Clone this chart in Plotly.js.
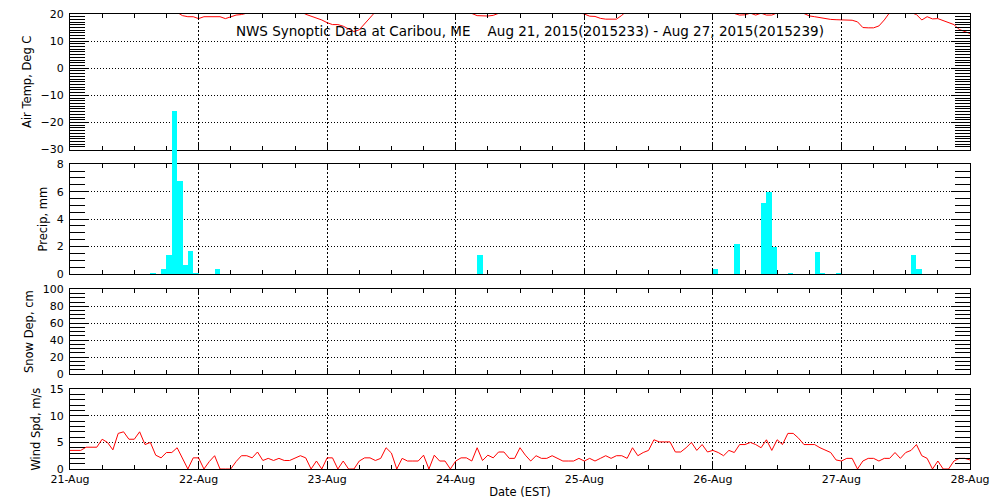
<!DOCTYPE html>
<html>
<head>
<meta charset="utf-8">
<script src="https://cdn.plot.ly/plotly-3.0.1.min.js"></script>
<style>html,body{margin:0;padding:0;background:#fff;}#chart{width:1000px;height:500px;}</style>
</head>
<body>
<div id="chart"></div>
<script>
// ---- data (hourly, starting 2015-08-21 00:00 EST) ----
const startDate = '2015-08-21';
const endDate = '2015-08-28';

// Air temperature, deg C, hourly h0..h168 (values above 20 are off-scale in the reference)
const airTemp = [
  22.0,21.5,21.2,21.0,20.8,20.7,21.0,22.0,23.5,25.0,26.5,27.5,28.0,28.5,28.5,28.0,27.0,25.5,23.5,22.0,20.6,19.4,19.0,19.0,
  18.3,19.0,19.0,19.0,19.0,18.3,19.0,19.6,19.8,20.3,21.5,23.0,24.0,25.0,25.5,25.5,25.0,24.0,22.5,21.0,19.9,19.2,18.6,17.8,
  16.8,16.1,16.1,15.5,14.5,13.5,14.2,16.5,19.0,21.0,23.0,24.5,26.0,27.0,27.5,27.5,27.0,26.0,24.5,23.0,22.0,21.3,21.0,20.6,
  20.3,20.2,20.3,20.2,19.4,19.25,19.25,19.5,20.2,21.0,23.0,25.0,26.5,27.5,28.0,28.5,28.5,28.0,27.0,25.5,24.0,22.5,21.5,20.5,
  20.0,19.2,19.1,18.4,18.1,18.0,18.1,19.5,21.0,23.0,25.0,26.5,28.0,29.0,29.5,29.5,29.0,28.0,26.5,25.0,23.5,22.5,21.8,21.2,
  20.8,20.5,20.3,20.2,20.2,19.6,19.7,20.3,19.6,20.3,19.6,19.6,20.4,21.5,22.5,22.0,21.0,20.0,19.3,19.0,18.6,18.3,18.0,17.9,
  17.8,17.8,17.7,17.1,15.0,14.9,14.9,15.6,17.8,20.5,22.0,23.0,22.0,20.5,19.8,17.8,19.0,18.2,18.3,17.5,16.8,16.1,14.3,13.5,
  12.8
];

// Precipitation, mm per hour (hour index from start, amount)
const precipHours = [15, 17, 18, 19, 20, 21, 22, 23, 27, 76, 120, 124, 129, 130, 131, 134, 139, 140, 143, 157, 158];
const precipMm    = [0.1, 0.4, 1.4, 11.9, 6.8, 0.65, 1.65, 0.1, 0.4, 1.4, 0.4, 2.2, 5.2, 6.0, 2.0, 0.1, 1.6, 0.1, 0.1, 1.4, 0.4];

// Snow depth, cm (no reports)
const snowDepth = [];

// Wind speed, m/s, hourly h0..h168
const windSpd = [
  3.5,3.5,3.5,4.1,4.1,4.1,5.6,5.0,3.6,6.7,7.0,5.6,5.6,7.0,4.6,5.0,2.6,2.1,3.1,3.1,4.0,2.0,0,2.1,
  2.1,0,1.4,2.5,0,0,0,1.4,2.5,2.5,2.1,3.2,1.6,2.0,1.6,2.0,1.6,1.6,2.0,2.5,2.1,0,1.5,0,
  2.1,2.1,0,1.5,0,0,1.5,2.1,2.1,1.6,2.0,4.0,3.0,0,2.0,1.5,1.5,1.5,2.6,0,2.6,1.5,1.5,0,
  1.5,2.1,2.1,1.5,4.0,1.6,2.6,2.1,3.2,3.2,2.0,2.0,4.0,2.6,1.5,2.5,2.0,2.0,2.5,2.0,1.5,1.5,1.5,2.0,
  1.5,2.0,1.5,2.0,2.5,2.0,2.5,2.5,2.0,4.0,2.5,3.1,3.5,5.5,5.1,5.1,5.1,3.2,3.2,4.0,5.0,3.5,4.6,3.2,
  3.5,3.1,2.5,3.5,3.1,4.6,4.6,5.0,4.6,4.0,5.5,3.5,5.5,4.6,6.7,6.7,5.8,4.6,4.6,4.6,4.0,3.5,3.1,1.7,
  1.5,2.0,2.0,0,1.5,2.0,2.0,1.5,2.0,2.0,3.1,2.0,3.1,3.5,4.6,2.5,2.0,0,1.5,0,0,1.5,2.0,2.0,
  1.7
];

const yTitles = ['Air Temp, Deg C', 'Precip, mm', 'Snow Dep, cm', 'Wind Spd, m/s'];
const chartTitle = 'NWS Synoptic Data at Caribou, ME\u00a0\u00a0\u00a0\u00a0Aug 21, 2015(2015233) - Aug 27, 2015(2015239)';
const xTitle = 'Date (EST)';

// ---- build ----
const HOUR = 3600000;
const t0 = Date.UTC(2015, 7, 21);
const hourTimes = n => Array.from({length: n}, (_, i) => t0 + i * HOUR);

const dom1 = [0.702, 1.0], dom2 = [0.4286, 0.6697], dom3 = [0.2088, 0.3949], dom4 = [0, 0.1752];
const precipRange = [0, 8];
// overflow axis: same scale as the precip panel, but extending upward to the top of the figure
const overflowTop = precipRange[1] * (1 - dom2[0]) / (dom2[1] - dom2[0]);

const traces = [
  {x: hourTimes(airTemp.length), y: airTemp, type: 'scatter', mode: 'lines',
   line: {color: '#ff0000', width: 1}, xaxis: 'x', yaxis: 'y', hoverinfo: 'skip'},
  {x: [], y: [], type: 'bar', xaxis: 'x2', yaxis: 'y2', hoverinfo: 'skip'},
  {x: hourTimes(snowDepth.length), y: snowDepth, type: 'scatter', mode: 'lines',
   line: {color: '#ff0000', width: 1}, xaxis: 'x3', yaxis: 'y3', hoverinfo: 'skip'},
  {x: hourTimes(windSpd.length), y: windSpd, type: 'scatter', mode: 'lines',
   line: {color: '#ff0000', width: 1}, xaxis: 'x4', yaxis: 'y4', hoverinfo: 'skip'},
  {x: precipHours.map(h => t0 + (h + 0.5) * HOUR), y: precipMm, type: 'bar', width: HOUR,
   marker: {color: '#00ffff', line: {width: 0}}, xaxis: 'x5', yaxis: 'y5', hoverinfo: 'skip'}
];

const font = {family: 'DejaVu Sans, sans-serif', size: 11, color: '#000'};
const titleFont = {family: 'DejaVu Sans, sans-serif', size: 11.5, color: '#000'};

function xAxis(anchor, showLabels) {
  return {
    type: 'date', anchor: anchor, range: [startDate, endDate],
    tick0: startDate, dtick: 86400000, tickformat: '%d-%b',
    ticks: 'inside', ticklen: 6, tickcolor: '#000', tickwidth: 1,
    showline: true, linecolor: '#000', linewidth: 1, mirror: 'ticks',
    showgrid: true, gridcolor: '#000', gridwidth: 1, griddash: '2px,2px',
    zeroline: false, showticklabels: showLabels, tickfont: font,
    minor: {dtick: 6 * HOUR, ticks: 'inside', ticklen: 4, tickcolor: '#000', showgrid: false},
    fixedrange: true
  };
}
function yAxis(anchor, domain, range, dtick, minorDtick, title) {
  return {
    anchor: anchor, domain: domain, range: range, dtick: dtick, tick0: 0,
    ticks: 'inside', ticklen: 19, tickcolor: '#000', tickwidth: 1,
    showline: true, linecolor: '#000', linewidth: 1, mirror: 'ticks',
    showgrid: true, gridcolor: '#000', gridwidth: 1, griddash: '1px,2px',
    zeroline: false, tickfont: font, ticklabelstandoff: 3,
    minor: {dtick: minorDtick, ticks: 'inside', ticklen: 15, tickcolor: '#000', showgrid: false},
    title: {text: title, font: titleFont, standoff: 6},
    fixedrange: true
  };
}

const layout = {
  width: 1000, height: 500,
  margin: {l: 70, r: 30, t: 14, b: 31},
  paper_bgcolor: '#fff', plot_bgcolor: 'rgba(0,0,0,0)',
  showlegend: false, font: font, bargap: 0,
  title: {text: chartTitle, font: {family: 'DejaVu Sans, sans-serif', size: 13.5, color: '#000'},
          x: 0.511, xref: 'paper', xanchor: 'center', y: 0.938, yref: 'container', yanchor: 'middle'},
  xaxis: xAxis('y', false),
  xaxis2: xAxis('y2', false),
  xaxis3: xAxis('y3', false),
  xaxis4: Object.assign(xAxis('y4', true), {title: {text: xTitle, font: titleFont, standoff: 2}}),
  xaxis5: {type: 'date', anchor: 'y5', range: [startDate, endDate], visible: false, fixedrange: true},
  yaxis: yAxis('x', dom1, [-30, 20], 10, 1, yTitles[0]),
  yaxis2: yAxis('x2', dom2, precipRange, 2, 0.5, yTitles[1]),
  yaxis3: yAxis('x3', dom3, [0, 100], 20, 5, yTitles[2]),
  yaxis4: yAxis('x4', dom4, [0, 15], 5, 1, yTitles[3]),
  yaxis5: {anchor: 'x5', domain: [dom2[0], 1], range: [0, overflowTop], visible: false, fixedrange: true}
};

Plotly.newPlot('chart', traces, layout, {staticPlot: true, displayModeBar: false});
</script>
</body>
</html>
